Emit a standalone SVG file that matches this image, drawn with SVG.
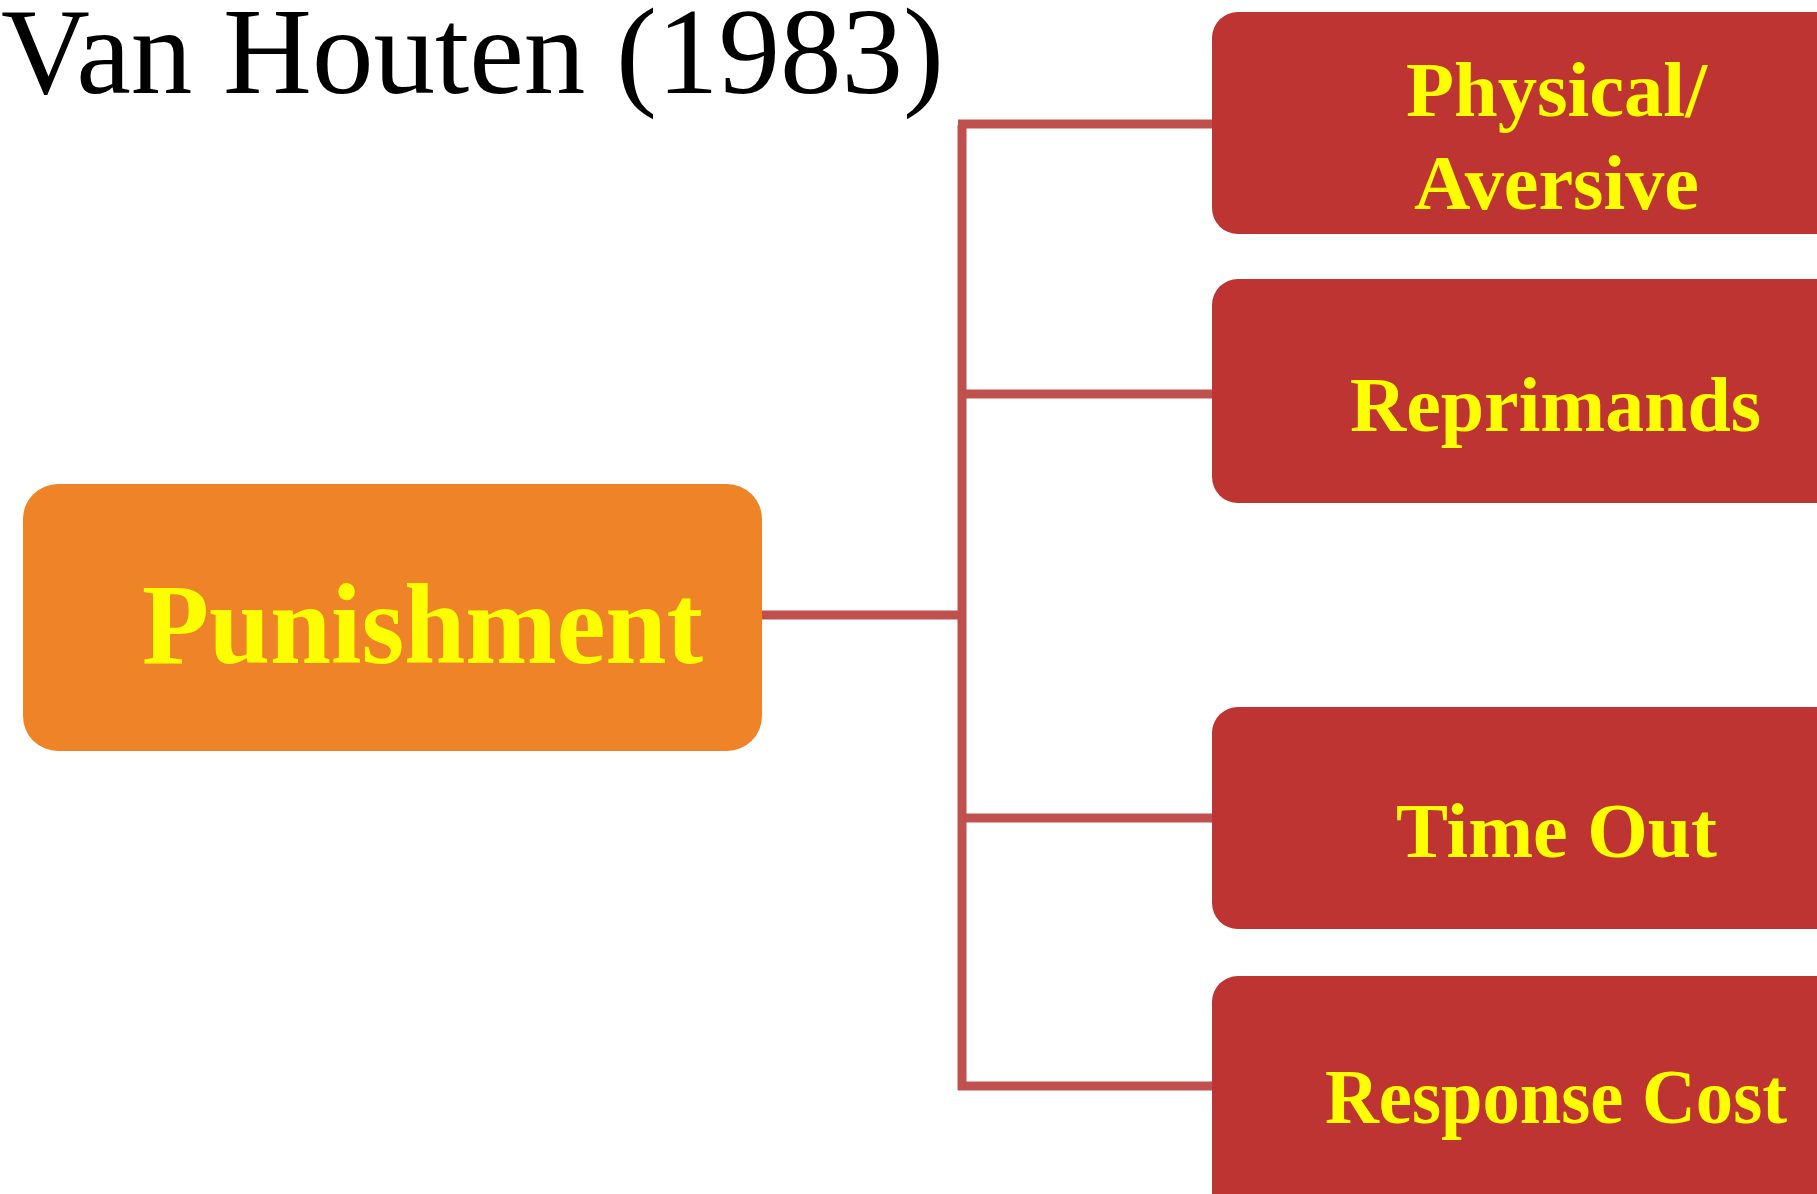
<svg xmlns="http://www.w3.org/2000/svg" width="1817" height="1194" viewBox="0 0 1817 1194">
<style>
.title{font-family:"Liberation Serif","Times New Roman",serif;font-size:122px;fill:#000}
.lbl{font-family:"Liberation Serif","Times New Roman",serif;font-weight:bold;fill:#FFFF00}
.child{fill:#BE3432}
.conn{stroke:#C0504D;stroke-width:9;fill:none}
</style>
<rect width="1817" height="1194" fill="#FFFFFF"/>
<text class="title" x="1" y="93" textLength="943" lengthAdjust="spacingAndGlyphs">Van Houten (1983)</text>
<g id="connectors">
<line class="conn" x1="962" y1="125" x2="962" y2="1090"/>
<line class="conn" x1="958" y1="124" x2="1214" y2="124"/>
<line class="conn" x1="962" y1="394" x2="1214" y2="394"/>
<line class="conn" x1="760" y1="615" x2="962" y2="615"/>
<line class="conn" x1="962" y1="818" x2="1214" y2="818"/>
<line class="conn" x1="958" y1="1086" x2="1214" y2="1086"/>
</g>
<g id="punishment">
<rect x="23" y="484" width="739" height="267" rx="35" fill="#EE8427"/>
<text class="lbl" x="142" y="663" font-size="114" textLength="561" lengthAdjust="spacingAndGlyphs">Punishment</text>
</g>
<g id="physical">
<rect class="child" x="1212" y="12" width="640" height="222" rx="26"/>
<text class="lbl" x="1406" y="116" font-size="79" textLength="301" lengthAdjust="spacingAndGlyphs">Physical/</text>
<text class="lbl" x="1414" y="209" font-size="79" textLength="285" lengthAdjust="spacingAndGlyphs">Aversive</text>
</g>
<g id="reprimands">
<rect class="child" x="1212" y="279" width="640" height="224" rx="26"/>
<text class="lbl" x="1350" y="431" font-size="79" textLength="411" lengthAdjust="spacingAndGlyphs">Reprimands</text>
</g>
<g id="timeout">
<rect class="child" x="1212" y="707" width="640" height="222" rx="26"/>
<text class="lbl" x="1396" y="857" font-size="79" textLength="321" lengthAdjust="spacingAndGlyphs">Time Out</text>
</g>
<g id="responsecost">
<rect class="child" x="1212" y="976" width="640" height="260" rx="26"/>
<text class="lbl" x="1325" y="1123" font-size="79" textLength="462" lengthAdjust="spacingAndGlyphs">Response Cost</text>
</g>
</svg>
